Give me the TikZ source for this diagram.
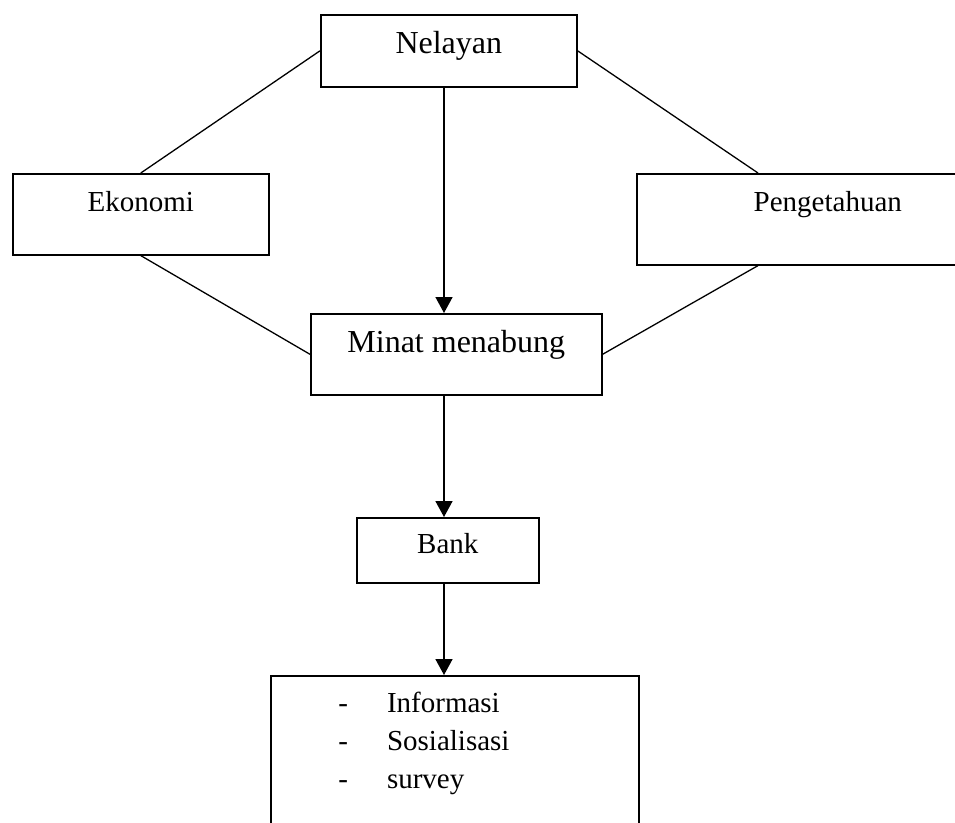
\documentclass[tikz,border=0pt]{standalone}
\usepackage{fontspec}
\setmainfont{Liberation Serif}
\usetikzlibrary{positioning,arrows.meta}

\begin{document}
\begin{tikzpicture}[x=1pt, y=-1pt, thick,
box/.style={rectangle,draw,line width=1.6pt,inner sep=0pt,anchor=north west,font=\fontsize{29}{38}\selectfont},
big/.style={font=\fontsize{32}{40}\selectfont},
link/.style={line width=1.3pt},
arr/.style={line width=1.6pt,-{Triangle[length=16pt,width=17pt]}}]

\useasboundingbox (0,0) rectangle (955,822);
\clip (0,0) rectangle (955,822);

\node[box,big] (nelayan) at (320,14) [minimum width=256pt,text height=39pt,text depth=33pt] {Nelayan};
\node[box] (ekonomi) at (12,173) [minimum width=256pt,text height=38pt,text depth=43pt] {Ekonomi};
\node[box] (pengetahuan) at (636,173) [minimum width=382pt,text height=38pt,text depth=53pt] {Pengetahuan};
\node[box,big] (minat) at (310,313) [minimum width=291pt,text height=39pt,text depth=42pt] {Minat menabung};
\node[box] (bank) at (356,517) [minimum width=182pt,text height=36pt,text depth=29pt] {Bank};
\node[box] (info) at (270,675) [minimum width=368pt,minimum height=170pt] {};
\node[anchor=base west,inner sep=0pt,font=\fontsize{29}{38}\selectfont] (daftar)
  at ([xshift=68pt,yshift=-37pt]info.north west)
  {\begin{tabular}[t]{@{}l@{\hspace{39pt}}l@{}}
   - & Informasi\\
   - & Sosialisasi\\
   - & survey
   \end{tabular}};

\coordinate (sumbu) at (444,0);

\path[link]
(nelayan.west) edge (ekonomi.north)
(nelayan.east) edge ([xshift=122pt]pengetahuan.north west)
(ekonomi.south) edge (minat.west)
([xshift=122pt]pengetahuan.south west) edge (minat.east);

\path[arr]
(nelayan.south -| sumbu) edge (minat.north -| sumbu)
(minat.south -| sumbu) edge (bank.north -| sumbu)
(bank.south -| sumbu) edge (info.north -| sumbu);
\end{tikzpicture}
\end{document}
